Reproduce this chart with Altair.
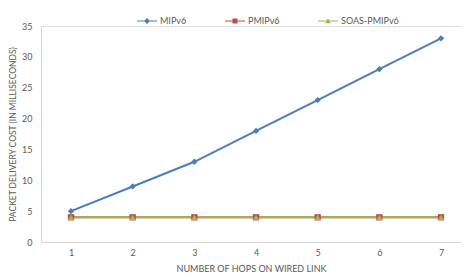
import altair as alt
import pandas as pd

hops = [1, 2, 3, 4, 5, 6, 7]
mipv6 = [5, 9, 13, 18, 23, 28, 33]
pmipv6 = [4, 4, 4, 4, 4, 4, 4]
soas = [4, 4, 4, 4, 4, 4, 4]
series_names = ["MIPv6", "PMIPv6", "SOAS-PMIPv6"]
colors = ["#4A7EBB", "#BE4B48", "#98B954"]
y_ticks = [0, 5, 10, 15, 20, 25, 30, 35]

rows = []
for name, vals in zip(series_names, [mipv6, pmipv6, soas]):
    for h, v in zip(hops, vals):
        rows.append({"hops": h, "cost": v, "series": name})
df = pd.DataFrame(rows)

FONT = "Lato"
x = alt.X("hops:Q", scale=alt.Scale(domain=[0.5135, 7.324], nice=False, zero=False),
          axis=alt.Axis(values=hops, title="NUMBER OF HOPS ON WIRED LINK", grid=False,
                        ticks=False, domainColor="#D9D9D9", labelColor="#595959",
                        labelFontSize=9, titleFontSize=9, titleColor="#595959",
                        titleFontWeight="normal", labelPadding=6, titlePadding=7,
                        labelFont=FONT, titleFont=FONT, format="d"))
y = alt.Y("cost:Q", scale=alt.Scale(domain=[0, 35], nice=False),
          axis=alt.Axis(values=y_ticks, title="PACKET DELIVERY COST (IN MILLISECONDS)", grid=False,
                        ticks=False, domainColor="#D9D9D9", labelColor="#595959",
                        labelFontSize=9, titleFontSize=8.5, titleColor="#595959",
                        titleFontWeight="normal", labelPadding=9, titlePadding=4,
                        labelFont=FONT, titleFont=FONT))
color_scale = alt.Scale(domain=series_names, range=colors)

lines = alt.Chart(df).mark_line(strokeWidth=2).encode(
    x=x, y=y,
    color=alt.Color("series:N", scale=color_scale, legend=None),
)

points = alt.Chart(df).mark_point(filled=True, opacity=1, size=40).encode(
    x=x, y=y,
    color=alt.Color("series:N", scale=color_scale, legend=None),
    shape=alt.Shape("series:N", scale=alt.Scale(domain=series_names,
                                                 range=["diamond", "square", "triangle-up"]),
                    legend=None),
)

bar = "M-1,-0.06H1V0.06H-1Z "
legend_shapes = [
    bar + "M0,-0.3L0.3,0L0,0.3L-0.3,0Z",
    bar + "M-0.25,-0.25H0.25V0.25H-0.25Z",
    bar + "M0,-0.28L0.28,0.22H-0.28Z",
]

legend_props = dict(orient="none", direction="horizontal", title=None,
                    legendX=96, legendY=-15, symbolSize=400,
                    symbolOpacity=1, labelOffset=3, columnPadding=38,
                    labelFontSize=9, labelColor="#595959", labelFont=FONT,
                    symbolStrokeWidth=0)

legend_layer = alt.Chart(df).mark_point(filled=True, opacity=0).encode(
    x=x, y=y,
    color=alt.Color("series:N", scale=color_scale, legend=alt.Legend(**legend_props)),
    shape=alt.Shape("series:N", scale=alt.Scale(domain=series_names, range=legend_shapes),
                    legend=alt.Legend(**legend_props)),
)

chart = alt.layer(lines, points, legend_layer).resolve_scale(
    shape="independent", color="independent"
).properties(
    width=420, height=216,
    autosize=alt.AutoSizeParams(type="none"),
    padding={"left": 33, "top": 18, "right": 0, "bottom": 33},
).configure_view(stroke=None).configure(background="white")

chart.save("out.html", embed_options={"renderer": "svg", "actions": False})
